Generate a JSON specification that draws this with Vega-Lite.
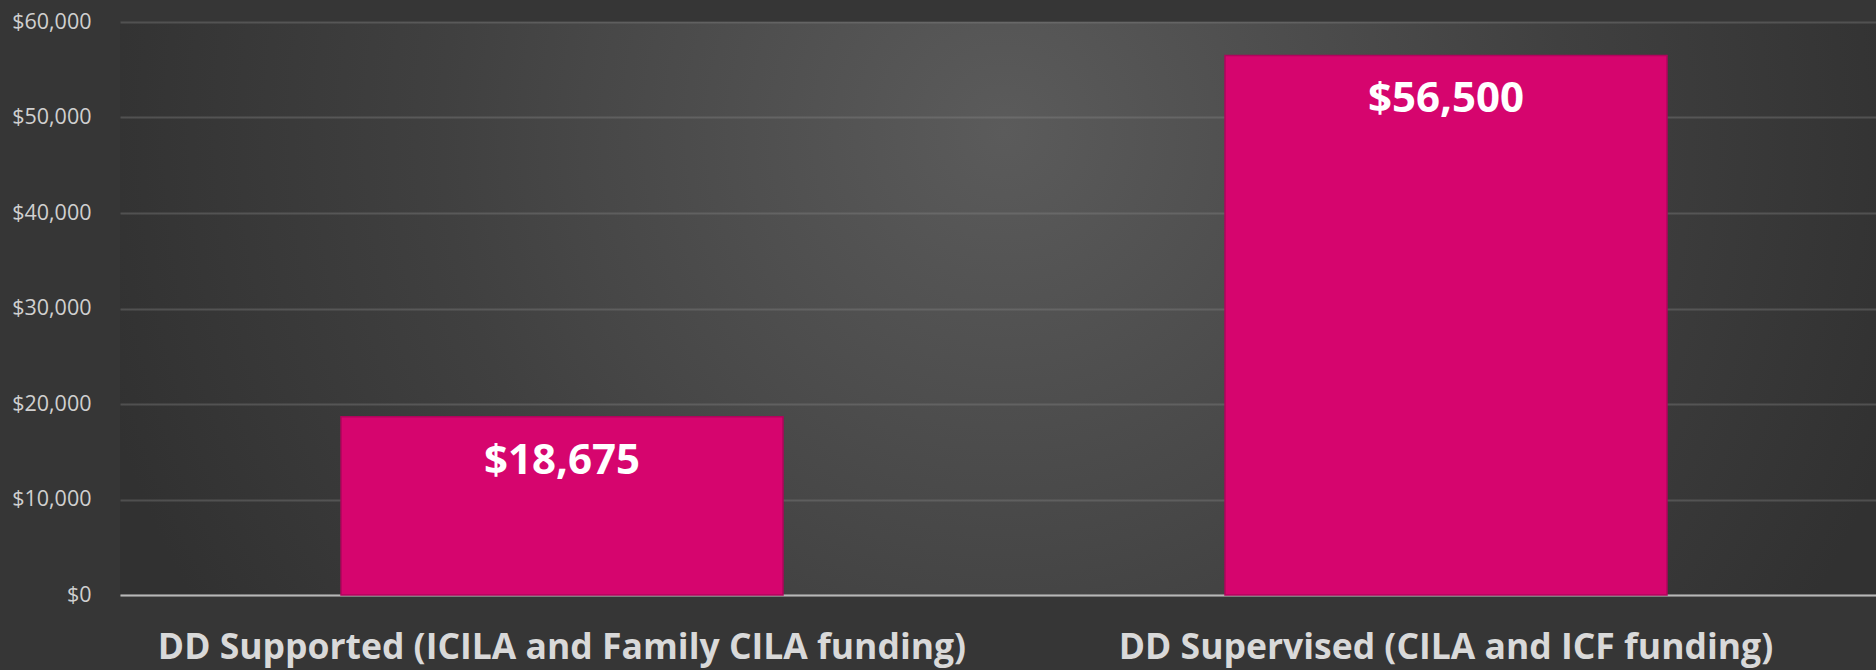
{
  "$schema": "https://vega.github.io/schema/vega-lite/v6.json",
  "autosize": "none",
  "width": 1768,
  "height": 573,
  "padding": {"left": 120, "top": 22, "right": 0, "bottom": 75},
  "background": "#363636",
  "view": {
    "stroke": null,
    "fill": {"gradient": "radial", "x1": 0.5, "y1": 0.4, "r1": 0, "x2": 0.5, "y2": 0.4, "r2": 0.53,
      "stops": [{"offset": 0, "color": "#5b5b5b"}, {"offset": 0.45, "color": "#474747"}, {"offset": 0.6, "color": "#404040"}, {"offset": 1, "color": "#313131"}]}
  },
  "data": {"values": [
    {"category": "DD Supported (ICILA and Family CILA funding)", "cost": 18675},
    {"category": "DD Supervised (CILA and ICF funding)", "cost": 56500}
  ]},
  "encoding": {
    "x": {"field": "category", "type": "nominal", "sort": null,
      "scale": {"paddingInner": 0.5, "paddingOuter": 0.25},
      "axis": {"title": null, "labelAngle": 0, "ticks": false, "domain": true, "domainColor": "#b8b8b8", "domainWidth": 2,
        "labelFont": "Open Sans", "labelFontWeight": "bold", "labelFontSize": 35.5, "labelColor": "#d9d9d9",
        "labelPadding": 35, "labelBaseline": "top", "labelLimit": 0, "grid": false}},
    "y": {"field": "cost", "type": "quantitative",
      "scale": {"domain": [0, 60000], "nice": false},
      "axis": {"title": null, "values": [0, 10000, 20000, 30000, 40000, 50000, 60000], "format": "$,.0f",
        "ticks": false, "domain": false, "labelPadding": 29, "labelFont": "Open Sans", "labelFontSize": 21.5,
        "labelColor": "#d0d0d0", "grid": true, "gridColor": "#8a8a8a", "gridOpacity": 0.35, "gridWidth": 2}}
  },
  "layer": [
    {"mark": {"type": "bar", "color": "#d6056e", "stroke": "#b0045c", "strokeWidth": 1.5}},
    {"mark": {"type": "text", "font": "Open Sans", "fontWeight": "bold", "fontSize": 42, "color": "#ffffff", "baseline": "alphabetic", "dy": 57},
      "encoding": {"text": {"field": "cost", "type": "quantitative", "format": "$,.0f"}}}
  ]
}
